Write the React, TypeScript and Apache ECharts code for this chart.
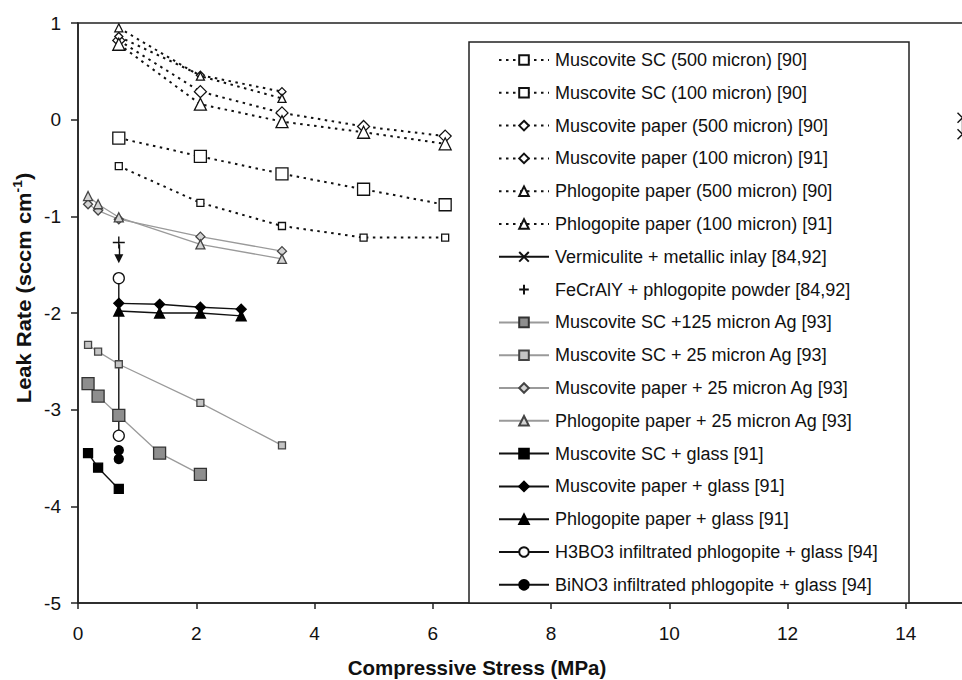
import React, { useEffect, useRef } from "react";
import * as echarts from "echarts";

// Compressive stress (MPa) / log leak rate (sccm cm^-1) pairs per seal type
const muscoviteSC500 = [[0.69, -0.48], [2.07, -0.86], [3.45, -1.1], [4.83, -1.22], [6.21, -1.22]];
const muscoviteSC100 = [[0.69, -0.19], [2.07, -0.38], [3.45, -0.56], [4.83, -0.72], [6.21, -0.88]];
const muscovitePaper500 = [[0.69, 0.82], [2.07, 0.29], [3.45, 0.07], [4.83, -0.07], [6.21, -0.17]];
const muscovitePaper100 = [[0.69, 0.86], [2.07, 0.46], [3.45, 0.29]];
const phlogopitePaper500 = [[0.69, 0.78], [2.07, 0.16], [3.45, -0.02], [4.83, -0.13], [6.21, -0.25]];
const phlogopitePaper100 = [[0.69, 0.95], [2.07, 0.45], [3.45, 0.22]];
const vermiculiteInlay = [[14.96, 0.02], [14.96, -0.15]];
const fecralyPowder = [[0.69, -1.27]];
const fecralyBound = [-1.29, -1.44];
const muscoviteSCAg125 = [[0.17, -2.73], [0.34, -2.86], [0.69, -3.06], [1.38, -3.45], [2.07, -3.67]];
const muscoviteSCAg25 = [[0.17, -2.33], [0.34, -2.4], [0.69, -2.53], [2.07, -2.93], [3.45, -3.37]];
const muscovitePaperAg25 = [[0.17, -0.875], [0.34, -0.94], [0.69, -1.03], [2.07, -1.21], [3.45, -1.36]];
const phlogopitePaperAg25 = [[0.17, -0.79], [0.34, -0.875], [0.69, -1.01], [2.07, -1.29], [3.45, -1.44]];
const muscoviteSCGlass = [[0.17, -3.45], [0.34, -3.6], [0.69, -3.82]];
const muscovitePaperGlass = [[0.69, -1.9], [1.38, -1.91], [2.07, -1.94], [2.76, -1.96]];
const phlogopitePaperGlass = [[0.69, -1.98], [1.38, -2.0], [2.07, -2.0], [2.76, -2.03]];
const h3bo3Glass = [[0.69, -1.64], [0.69, -3.27]];
const bino3Glass = [[0.69, -3.42], [0.69, -3.51]];

const xTicks = { min: 0, max: 16, step: 2, lastLabel: 14 };
const yTicks = { min: -5, max: 1, step: 1 };

const FONT = "'Liberation Sans', Arial, sans-serif";
const CROSS = "path://M0,0L10,10M10,0L0,10";
const PLUS = "path://M5,0L5,10M0,5L10,5";

const dotted = { color: "#111", width: 2, type: [2.5, 4.5] as number[] };
const greyLine = { color: "#9a9a9a", width: 1.3, type: "solid" };
const blackLine = { color: "#111", width: 1.4, type: "solid" };

function openMarker(fill: string, border: string) {
  return { color: fill, borderColor: border, borderWidth: 1.3 };
}

function lineSeries(name: string, data: number[][], symbol: string, symbolSize: number, lineStyle: any, itemStyle: any, extra: any = {}) {
  return {
    type: "line",
    name,
    data,
    symbol,
    symbolSize,
    showAllSymbol: true,
    lineStyle,
    itemStyle,
    emphasis: { disabled: true },
    silent: true,
    ...extra,
  };
}

export default function App() {
  const ref = useRef<HTMLDivElement>(null);

  useEffect(() => {
    if (!ref.current) return;
    const chart = echarts.init(ref.current, undefined, { renderer: "svg" });

    const series = [
      lineSeries("Muscovite SC (500 micron) [90]", muscoviteSC500, "rect", 7, dotted, openMarker("#fff", "#111")),
      lineSeries("Muscovite SC (100 micron) [90]", muscoviteSC100, "rect", 12, dotted, openMarker("#fff", "#111")),
      lineSeries("Muscovite paper (500 micron) [90]", muscovitePaper500, "diamond", 12, dotted, openMarker("#fff", "#111")),
      lineSeries("Muscovite paper (100 micron) [91]", muscovitePaper100, "diamond", 8, dotted, openMarker("#fff", "#111")),
      lineSeries("Phlogopite paper (500 micron) [90]", phlogopitePaper500, "triangle", 12, dotted, openMarker("#fff", "#111")),
      lineSeries("Phlogopite paper (100 micron) [91]", phlogopitePaper100, "triangle", 8, dotted, openMarker("#fff", "#111")),
      lineSeries("Vermiculite + metallic inlay [84,92]", vermiculiteInlay, CROSS, 10, blackLine, { color: "#111", borderColor: "#111", borderWidth: 1.4 }),
      lineSeries("FeCrAlY + phlogopite powder [84,92]", fecralyPowder, PLUS, 12, { ...blackLine, opacity: 0 }, { color: "#111", borderColor: "#111", borderWidth: 1.4 }, {
        markLine: {
          silent: true,
          symbol: ["none", "triangle"],
          symbolSize: 9,
          label: { show: false },
          lineStyle: { color: "#111", width: 1.4, type: "solid", opacity: 1 },
          data: [[{ coord: [fecralyPowder[0][0], fecralyBound[0]] }, { coord: [fecralyPowder[0][0], fecralyBound[1]] }]],
        },
      }),
      lineSeries("Muscovite SC +125 micron Ag [93]", muscoviteSCAg125, "rect", 12, greyLine, openMarker("#8e8e8e", "#333")),
      lineSeries("Muscovite SC + 25 micron Ag [93]", muscoviteSCAg25, "rect", 7, greyLine, openMarker("#c4c4c4", "#444")),
      lineSeries("Muscovite paper + 25 micron Ag [93]", muscovitePaperAg25, "diamond", 9, greyLine, openMarker("#d4d4d4", "#444")),
      lineSeries("Phlogopite paper + 25 micron Ag [93]", phlogopitePaperAg25, "triangle", 9, greyLine, openMarker("#d4d4d4", "#444")),
      lineSeries("Muscovite SC + glass [91]", muscoviteSCGlass, "rect", 9, blackLine, openMarker("#000", "#000")),
      lineSeries("Muscovite paper + glass [91]", muscovitePaperGlass, "diamond", 10, blackLine, openMarker("#000", "#000")),
      lineSeries("Phlogopite paper + glass [91]", phlogopitePaperGlass, "triangle", 10, blackLine, openMarker("#000", "#000")),
      lineSeries("H3BO3 infiltrated phlogopite + glass [94]", h3bo3Glass, "circle", 11, blackLine, openMarker("#fff", "#111")),
      lineSeries("BiNO3 infiltrated phlogopite + glass [94]", bino3Glass, "circle", 9, blackLine, openMarker("#000", "#000")),
    ];

    chart.setOption({
      animation: false,
      backgroundColor: "#fff",
      textStyle: { fontFamily: FONT },
      grid: {
        left: 78,
        top: 23,
        width: 946,
        height: 580,
        show: true,
        borderColor: "#222",
        borderWidth: 1.5,
        backgroundColor: "transparent",
      },
      xAxis: {
        type: "value",
        min: xTicks.min,
        max: xTicks.max,
        interval: xTicks.step,
        axisLine: { onZero: false, lineStyle: { color: "#222", width: 1.5 } },
        axisTick: { length: 6, lineStyle: { color: "#222", width: 1.5 } },
        axisLabel: {
          fontSize: 19,
          color: "#111",
          fontFamily: FONT,
          margin: 21,
          formatter: (v: number) => (v > xTicks.lastLabel ? "" : String(v)),
        },
        splitLine: { show: false },
      },
      yAxis: {
        type: "value",
        min: yTicks.min,
        max: yTicks.max,
        interval: yTicks.step,
        axisLine: { onZero: false, lineStyle: { color: "#222", width: 1.5 } },
        axisTick: { length: 7, lineStyle: { color: "#222", width: 1.5 } },
        axisLabel: { fontSize: 19, color: "#111", fontFamily: FONT, margin: 17 },
        splitLine: { show: false },
      },
      legend: {
        orient: "vertical",
        left: 498,
        top: 51,
        padding: 0,
        itemWidth: 50,
        itemHeight: 12,
        itemGap: 14.8,
        selectedMode: false,
        textStyle: { fontSize: 18, lineHeight: 18, color: "#111", fontFamily: FONT, padding: [0, 0, 0, 1] },
        data: series.map((s) => s.name),
      },
      graphic: [
        {
          type: "rect",
          z: 1,
          shape: { x: 469, y: 42, width: 440, height: 561 },
          style: { fill: "#fff", stroke: "#222", lineWidth: 1.5 },
        },
        {
          type: "text",
          x: 477,
          y: 667,
          style: {
            text: "Compressive Stress (MPa)",
            fontSize: 20.5,
            fontWeight: "bold",
            fontFamily: FONT,
            fill: "#111",
            align: "center",
            verticalAlign: "middle",
          },
        },
        {
          type: "text",
          x: 24,
          y: 288,
          rotation: Math.PI / 2,
          scaleX: 1.07,
          style: {
            text: "{t|Leak Rate (sccm cm}{s|-1}{t|)}",
            align: "center",
            verticalAlign: "middle",
            fill: "#111",
            rich: {
              t: { fontSize: 20.5, fontWeight: "bold", fontFamily: FONT, lineHeight: 26, fill: "#111" },
              s: { fontSize: 13, fontWeight: "bold", fontFamily: FONT, lineHeight: 13, verticalAlign: "top", fill: "#111" },
            },
          },
        },
      ],
      series,
    });

    return () => chart.dispose();
  }, []);

  // The plot area runs past the right edge of the frame, which crops it.
  return (
    <div
      style={{ position: "absolute", left: 0, top: 0, width: 962, height: 680, overflow: "hidden", background: "#fff" }}
    >
      <div ref={ref} style={{ width: 1040, height: 680 }} />
    </div>
  );
}
